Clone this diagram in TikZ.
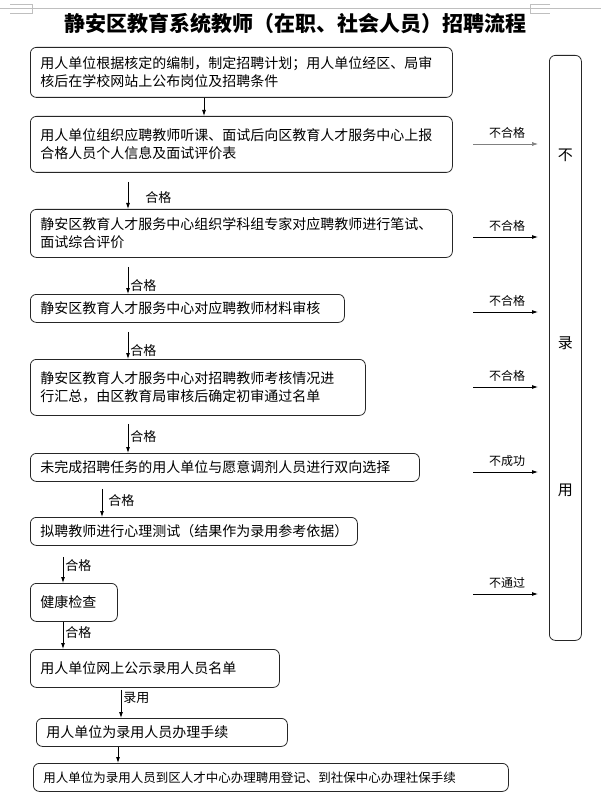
\documentclass[tikz,border=0pt]{standalone}
\usepackage{fontspec}
\setmainfont{Noto Sans CJK SC}
\usetikzlibrary{positioning,arrows.meta}
\begin{document}
\begin{tikzpicture}[x=1pt,y=-1pt,>={Latex[length=6pt,width=4pt]},
  box/.style={draw=black!85,line width=0.8pt,rounded corners=6pt,anchor=north west,
    inner xsep=10pt,inner ysep=0pt,align=left,font=\fontsize{14}{18}\selectfont},
  flow/.style={->,line width=0.8pt},
  tag/.style={right,font=\fontsize{13}{13}\selectfont,inner sep=2pt},
  fail/.style={->,line width=0.8pt,shorten >=11pt},
  failtag/.style={above=5pt,font=\fontsize{12}{12}\selectfont,inner sep=0pt}]
\useasboundingbox (0,0) rectangle (601,802);
\draw[gray!50,line width=0.6pt] (0,8) -- (601,8);
\draw[gray!50,line width=0.6pt] (10,4) -- (32,4) -- (32,13) -- (10,13);
\draw[gray!50,line width=0.6pt] (550,4) -- (530,4) -- (530,13) -- (550,13);
\node[font=\fontsize{21}{21}\selectfont\bfseries] (title) at (295,23) {静安区教育系统教师（在职、社会人员）招聘流程};
\node[box,text width=402pt,minimum height=50pt] (plan) at (30,47) {用人单位根据核定的编制，制定招聘计划；用人单位经区、局审\\核后在学校网站上公布岗位及招聘条件};
\node[box,text width=402pt,minimum height=56pt] (report) at (30,116) {用人单位组织应聘教师听课、面试后向区教育人才服务中心上报\\合格人员个人信息及面试评价表};
\node[box,text width=402pt,minimum height=48pt] (exam) at (30,209) {静安区教育人才服务中心组织学科组专家对应聘教师进行笔试、\\面试综合评价};
\node[box,text width=294pt,minimum height=28pt] (check) at (30,294) {静安区教育人才服务中心对应聘教师材料审核};
\node[box,text width=315pt,minimum height=56pt] (summ) at (30,359) {静安区教育人才服务中心对招聘教师考核情况进\\行汇总，由区教育局审核后确定初审通过名单};
\node[box,text width=369pt,minimum height=28pt] (match) at (30,453) {未完成招聘任务的用人单位与愿意调剂人员进行双向选择};
\node[box,text width=307pt,minimum height=28pt] (psych) at (30,517) {拟聘教师进行心理测试（结果作为录用参考依据）};
\node[box,text width=67pt,minimum height=38pt] (health) at (30,583) {健康检查};
\node[box,text width=229pt,minimum height=38pt] (publ) at (30,649) {用人单位网上公示录用人员名单};
\node[box,text width=231pt,minimum height=28pt] (proc) at (36,718) {用人单位为录用人员办理手续};
\node[box,text width=455pt,minimum height=28pt,font=\fontsize{12.5}{15}\selectfont] (reg) at (33,763) {用人单位为录用人员到区人才中心办理聘用登记、到社保中心办理社保手续};
\node[draw=black!85,line width=0.8pt,rounded corners=6pt,anchor=north west,minimum width=32pt,minimum height=585pt] (nolu) at (549,55) {};
\node[font=\fontsize{15}{15}\selectfont] (n1) at ([yshift=-100pt]nolu.north) {不};
\node[font=\fontsize{15}{15}\selectfont] (n2) at ([yshift=-288pt]nolu.north) {录};
\node[font=\fontsize{15}{15}\selectfont] (n3) at ([yshift=-435pt]nolu.north) {用};
\draw[flow] ([xshift=174pt]plan.south west) -- ([xshift=174pt]report.north west);
\draw[flow,shorten <=9pt] ([xshift=98pt]report.south west) -- node[tag,pos=.68,xshift=15pt] {合格} ([xshift=98pt]exam.north west);
\draw[flow,shorten <=9pt] ([xshift=98pt]exam.south west) -- node[tag,pos=.78] {合格} ([xshift=98pt]check.north west);
\draw[flow,shorten <=9pt] ([xshift=98pt]check.south west) -- node[tag,pos=.76] {合格} ([xshift=98pt]summ.north west);
\draw[flow,shorten <=8pt] ([xshift=98pt]summ.south west) -- node[tag,pos=.55] {合格} ([xshift=98pt]match.north west);
\draw[flow,shorten <=7pt] ([xshift=72pt]match.south west) -- node[tag,pos=.53,xshift=4pt] {合格} ([xshift=72pt]psych.north west);
\draw[flow,shorten <=11pt] ([xshift=33pt]psych.south west) -- node[tag,pos=.53] {合格} ([xshift=33pt]health.north west);
\draw[flow] ([xshift=33pt]health.south west) -- node[tag,pos=.39] {合格} ([xshift=33pt]publ.north west);
\draw[flow,shorten <=2pt] ([xshift=91pt]publ.south west) -- node[tag,pos=.32] {录用} ([xshift=85pt]proc.north west);
\draw[flow] ([xshift=82pt]proc.south west) -- ([xshift=85pt]reg.north west);
\coordinate (f1) at (473,144);
\coordinate (f2) at (473,237);
\coordinate (f3) at (473,312);
\coordinate (f4) at (473,387);
\coordinate (f5) at (473,472);
\coordinate (f6) at (473,594);
\draw[fail,draw=gray,line width=0.6pt] (f1) -- node[failtag,pos=.45] {不合格} (f1 -| nolu.west);
\draw[fail] (f2) -- node[failtag,pos=.45] {不合格} (f2 -| nolu.west);
\draw[fail] (f3) -- node[failtag,pos=.45] {不合格} (f3 -| nolu.west);
\draw[fail] (f4) -- node[failtag,pos=.45] {不合格} (f4 -| nolu.west);
\draw[fail] (f5) -- node[failtag,pos=.45] {不成功} (f5 -| nolu.west);
\draw[fail] (f6) -- node[failtag,pos=.45] {不通过} (f6 -| nolu.west);
\end{tikzpicture}
\end{document}
